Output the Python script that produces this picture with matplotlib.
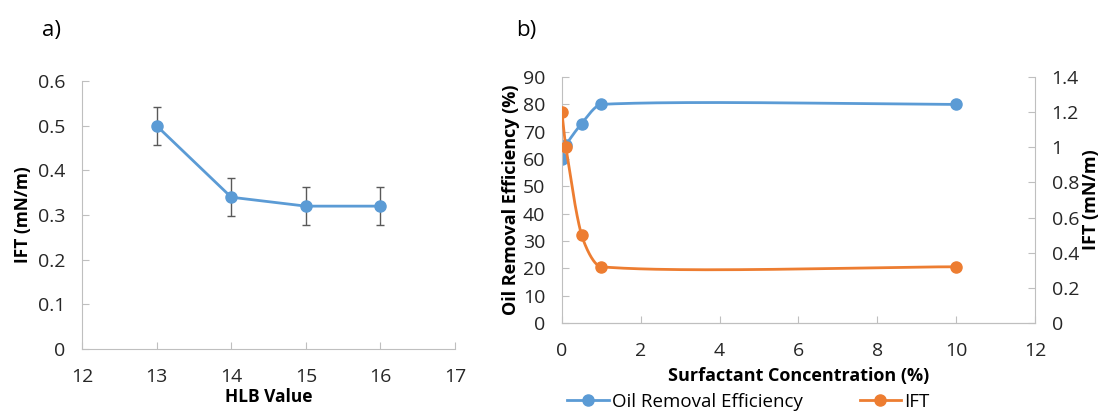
import numpy as np
import matplotlib
matplotlib.use("Agg")
import matplotlib.pyplot as plt

plt.rcParams.update({'font.size': 14, 'font.family': ['Open Sans', 'DejaVu Sans']})

# panel a data
hlb = [13, 14, 15, 16]
ift_hlb = [0.50, 0.34, 0.32, 0.32]
ift_err = [0.043, 0.043, 0.043, 0.043]

# panel b data
conc = [0, 0.1, 0.5, 1, 10]
removal = [60, 65, 73, 80, 80]
ift_conc = [1.2, 1.0, 0.5, 0.32, 0.32]

blue = '#5B9BD5'
orange = '#ED7D31'
grey = '#BFBFBF'


def smooth(xs, ys, xspan, yspan, aspect, n=60, k=0.7):
    # smoothed line through the points (Excel style), tangents from chord lengths
    x = np.asarray(xs, float) / xspan * aspect
    y = np.asarray(ys, float) / yspan
    px = np.concatenate([[x[0]], x, [x[-1]]])
    py = np.concatenate([[y[0]], y, [y[-1]]])
    d = np.hypot(np.diff(px), np.diff(py))
    t = np.linspace(0, 1, n)
    outx, outy = [], []
    for i in range(1, len(px) - 2):
        d01, d12, d23 = d[i - 1], d[i], d[i + 1]
        for p, out in ((px, outx), (py, outy)):
            p0, p1, p2, p3 = p[i - 1], p[i], p[i + 1], p[i + 2]
            m1 = k * (p2 - p0) * d12 / (d01 + d12) if d01 > 0 else k * (p2 - p1)
            m2 = k * (p3 - p1) * d12 / (d12 + d23) if d23 > 0 else k * (p2 - p1)
            h = (2 * t**3 - 3 * t**2 + 1) * p1 + (t**3 - 2 * t**2 + t) * m1 \
                + (-2 * t**3 + 3 * t**2) * p2 + (t**3 - t**2) * m2
            out.extend(h)
    return np.array(outx) * xspan / aspect, np.array(outy) * yspan


def excel_axes(ax, sides=('left', 'bottom')):
    for s in ax.spines:
        ax.spines[s].set_visible(s in sides)
        ax.spines[s].set_color(grey)
    ax.tick_params(direction='in', length=5, color=grey, labelcolor='#262626')
    ax.tick_params(axis='y', pad=12)
    ax.tick_params(axis='x', pad=14)


fig = plt.figure(figsize=(11.01, 4.12), dpi=100)

# ---- a) ----
ax1 = fig.add_axes([0.0745, 0.153, 0.3388, 0.650])
ax1.errorbar(hlb, ift_hlb, yerr=ift_err, color=blue, lw=2, marker='o', ms=8,
             ecolor='#595959', elinewidth=1, capsize=3)
ax1.set_xlim(12, 17)
ax1.set_ylim(0, 0.6)
ax1.set_xticks(range(12, 18))
ax1.set_yticks(np.arange(0, 0.61, 0.1))
ax1.set_yticklabels(['0', '0.1', '0.2', '0.3', '0.4', '0.5', '0.6'])
excel_axes(ax1)
ax1.set_xlabel('HLB Value', fontweight='bold', fontsize=12.5, labelpad=1)
ax1.set_ylabel('IFT (mN/m)', fontweight='bold', fontsize=12.5, labelpad=4)
fig.text(0.038, 0.925, 'a)', fontsize=16, va='center')

# ---- b) ----
ax2 = fig.add_axes([0.5104, 0.216, 0.4296, 0.597])
ax3 = ax2.twinx()
aspect = (0.4296 * 11.01) / (0.597 * 4.12)
sx, sy = smooth(conc, removal, 12, 90, aspect)
ax2.plot(sx, sy, color=blue, lw=2)
ax2.plot(conc, removal, 'o', color=blue, ms=8)
sx, sy = smooth(conc, ift_conc, 12, 1.4, aspect)
ax3.plot(sx, sy, color=orange, lw=2)
ax3.plot(conc, ift_conc, 'o', color=orange, ms=8)
ax2.set_xlim(0, 12)
ax2.set_ylim(0, 90)
ax2.set_xticks(range(0, 13, 2))
ax2.set_yticks(range(0, 91, 10))
ax3.set_ylim(0, 1.4)
ax3.set_yticks(np.arange(0, 1.41, 0.2))
ax3.set_yticklabels(['0', '0.2', '0.4', '0.6', '0.8', '1', '1.2', '1.4'])
excel_axes(ax2, ('left', 'bottom'))
excel_axes(ax3, ('right', 'bottom'))
ax2.set_xlabel('Surfactant Concentration (%)', fontweight='bold', fontsize=13, labelpad=5)
ax2.set_ylabel('Oil Removal Efficiency (%)', fontweight='bold', fontsize=13, labelpad=2)
ax3.set_ylabel('IFT (mN/m)', fontweight='bold', fontsize=13, labelpad=2)
fig.text(0.469, 0.925, 'b)', fontsize=16, va='center')

h1 = plt.Line2D([], [], color=blue, lw=2, marker='o', ms=8)
h2 = plt.Line2D([], [], color=orange, lw=2, marker='o', ms=8)
fig.legend([h1, h2], ['Oil Removal Efficiency', 'IFT'], ncol=2, frameon=False,
           loc='center', bbox_to_anchor=(0.68, 0.025), fontsize=13.5,
           handlelength=2.2, columnspacing=3, handletextpad=0.2)

fig.savefig('out.png', dpi=100)
